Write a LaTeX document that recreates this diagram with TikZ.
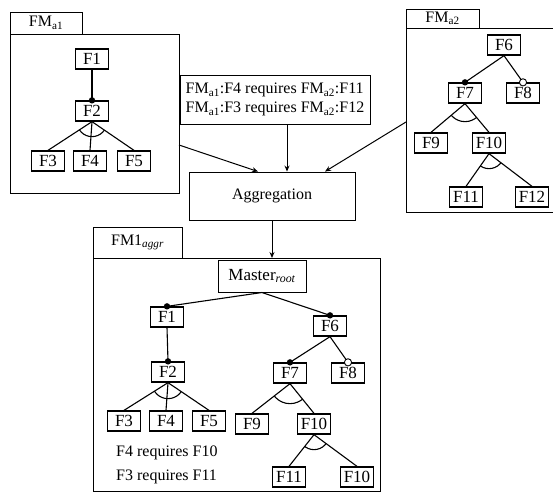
\documentclass[tikz,border=0pt]{standalone}
\usepackage{fontspec}
\setmainfont{Liberation Serif}
\usetikzlibrary{arrows.meta,calc}

% arc between the two outer branches of an alternative group
\newcommand\altgroup[4]{%
  \begin{scope}
    \clip (#1.south) -- (#2.north) -- (#3.north) -- cycle;
    \draw[branch] (#1.south) circle (#4);
  \end{scope}}

\begin{document}
\begin{tikzpicture}[x=1pt,y=-1pt,
  every node/.style={font=\fontsize{16}{19}\selectfont},
  feat/.style={draw, line width=1.3pt, minimum width=33pt, minimum height=20pt,
               inner xsep=3pt, inner ysep=1pt, font=\fontsize{17}{19}\selectfont},
  frame/.style={draw, line width=0.9pt},
  tablabel/.style={draw, line width=0.9pt, inner sep=0pt},
  branch/.style={line width=1.1pt},
  flow/.style={line width=1pt, -{Stealth[length=6pt,width=5pt]}},
  mand/.style={fill=black},
  opt/.style={draw, fill=white, line width=0.9pt}]

\useasboundingbox (0,0) rectangle (553,493);
\fill[white] (0,0) rectangle (553,493);

% ---------- feature model a1 ----------
\draw[frame] (10,34) rectangle (179,193);
\node[tablabel, minimum width=72pt, minimum height=22pt] (tabA) at (46,23) {FM\textsubscript{a1}};
\node[feat] (a1) at (92,59) {F1};
\node[feat] (a2) at (92,111) {F2};
\node[feat] (a3) at (48,161) {F3};
\node[feat] (a4) at (90,161) {F4};
\node[feat] (a5) at (134,161) {F5};
\draw[branch] (a1.south) -- (a2.north);
\fill[mand] (a2.north) circle (3.2pt);
\draw[branch] (a2.south) -- (a3.north);
\draw[branch] (a2.south) -- (a4.north);
\draw[branch] (a2.south) -- (a5.north);
\altgroup{a2}{a3}{a5}{15pt}

% ---------- feature model a2 ----------
\draw[frame] (556,28) -- (406,28) -- (406,212) -- (556,212);
\node[tablabel, minimum width=73pt, minimum height=19pt] (tabB) at (442.5,18.5) {FM\textsubscript{a2}};
\node[feat] (b6) at (504,45) {F6};
\node[feat] (b7) at (465,93) {F7};
\node[feat] (b8) at (523,93) {F8};
\node[feat] (b9) at (431,143) {F9};
\node[feat] (b10) at (489,143) {F10};
\node[feat] (b11) at (466,197) {F11};
\node[feat] (b12) at (532,197) {F12};
\draw[branch] (b6.south) -- (b7.north);
\fill[mand] (b7.north) circle (3.2pt);
\draw[branch] (b6.south) -- (b8.north);
\draw[opt] (b8.north) circle (3.6pt);
\draw[branch] (b7.south) -- (b9.north);
\draw[branch] (b7.south) -- (b10.north);
\altgroup{b7}{b9}{b10}{18pt}
\draw[branch] (b10.south) -- (b11.north);
\draw[branch] (b10.south) -- (b12.north);
\altgroup{b10}{b11}{b12}{15pt}

% ---------- cross-model constraints and aggregation ----------
\node[draw, line width=0.9pt, minimum width=190pt, minimum height=49pt, align=left,
      inner sep=0pt] (cons) at (275,99.5)
  {FM\textsubscript{a1}:F4 requires FM\textsubscript{a2}:F11\\
   FM\textsubscript{a1}:F3 requires FM\textsubscript{a2}:F12};
\node[draw, line width=0.9pt, minimum width=166pt, minimum height=48pt] (agg) at (272,196) {Aggregation};

\coordinate (outA) at (179,145);
\coordinate (outB) at (406,122);
\draw[flow] (outA) -- ([xshift=-14pt]agg.north);
\draw[flow] ([xshift=12pt]cons.south) -- ([xshift=15pt]agg.north);
\draw[flow] (outB) -- ([xshift=53pt]agg.north);

% ---------- aggregated feature model ----------
\draw[frame] (93,258) rectangle (380,491);
\node[tablabel, minimum width=89pt, minimum height=31pt] (tabC) at (137.5,242.5) {FM1\textsubscript{\itshape aggr}};
\coordinate (intoC) at (272,258);
\draw[flow] (agg.south) -- (intoC);

\node[feat, line width=1pt, minimum width=88pt, minimum height=32pt] (m) at (262,276) {Master\textsubscript{\itshape root}};
\node[feat] (c1) at (167,317) {F1};
\node[feat] (c6) at (330,326) {F6};
\node[feat] (c2) at (168,372) {F2};
\node[feat] (c7) at (290,373) {F7};
\node[feat] (c8) at (348,373) {F8};
\node[feat] (c3) at (124,421) {F3};
\node[feat] (c4) at (166,421) {F4};
\node[feat] (c5) at (209,421) {F5};
\node[feat] (c9) at (252,424) {F9};
\node[feat] (c10) at (314,424) {F10};
\node[feat] (c11) at (289,477) {F11};
\node[feat] (c12) at (357,477) {F10};

\draw[branch] (m.south) -- (c1.north);
\fill[mand] (c1.north) circle (3.2pt);
\draw[branch] (m.south) -- (c6.north);
\fill[mand] (c6.north) circle (3.2pt);
\draw[branch] (c1.south) -- (c2.north);
\fill[mand] (c2.north) circle (3.2pt);
\draw[branch] (c2.south) -- (c3.north);
\draw[branch] (c2.south) -- (c4.north);
\draw[branch] (c2.south) -- (c5.north);
\altgroup{c2}{c3}{c5}{16pt}
\draw[branch] (c6.south) -- (c7.north);
\fill[mand] (c7.north) circle (3.2pt);
\draw[branch] (c6.south) -- (c8.north);
\draw[opt] (c8.north) circle (3.6pt);
\draw[branch] (c7.south) -- (c9.north);
\draw[branch] (c7.south) -- (c10.north);
\altgroup{c7}{c9}{c10}{20pt}
\draw[branch] (c10.south) -- (c11.north);
\draw[branch] (c10.south) -- (c12.north);
\altgroup{c10}{c11}{c12}{15pt}

\node[anchor=west, align=left, inner sep=0pt, font=\fontsize{16}{24}\selectfont] (req) at (116,465)
  {F4 requires F10\\F3 requires F11};

\end{tikzpicture}
\end{document}
